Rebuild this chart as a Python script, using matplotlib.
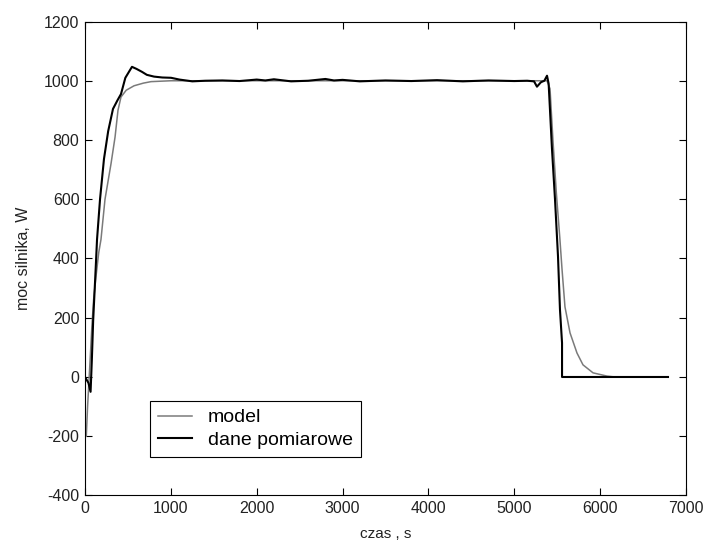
import matplotlib
matplotlib.use("Agg")
import matplotlib.pyplot as plt

plt.rcParams['font.family'] = ['Liberation Sans', 'DejaVu Sans']
plt.rcParams['axes.unicode_minus'] = False

# model (gray, thin)
model_t = [15, 30, 45, 60, 80, 100, 128, 160, 186, 233, 303, 350, 384, 419, 480, 571,
           680, 769, 1002, 1500, 2000, 2500, 3000, 3500, 4000, 4500, 5000, 5300, 5380,
           5416, 5450, 5490, 5530, 5556, 5590, 5649, 5730, 5800, 5917, 6080, 6173]
model_v = [-200, -100, -20, 60, 170, 260, 339, 420, 464, 600, 720, 810, 900, 945, 968, 983,
           992, 997, 1000, 1000, 1000, 1000, 1000, 1000, 1000, 1000, 1000, 1000, 1000,
           973, 800, 620, 470, 363, 237, 149, 81, 41, 14, 3, 0]

# dane pomiarowe (black, thicker)
meas_t = [0, 40, 65, 80, 95, 110, 125, 140, 175, 221, 270, 326, 380, 419, 470, 547, 600,
          664, 720, 804, 900, 1002, 1100, 1250, 1400, 1600, 1800, 2000, 2100, 2200, 2400,
          2600, 2800, 2900, 3000, 3200, 3500, 3800, 4100, 4400, 4700, 5000, 5150, 5230,
          5264, 5310, 5350, 5381, 5400, 5439, 5474, 5509, 5532, 5556, 5556, 6790]
meas_v = [0, -20, -50, 60, 190, 280, 370, 464, 600, 736, 830, 905, 935, 955, 1010, 1047, 1040,
          1030, 1020, 1014, 1011, 1010, 1004, 998, 1000, 1001, 999, 1004, 1001, 1005, 998,
          1000, 1006, 1001, 1003, 998, 1001, 999, 1002, 998, 1001, 999, 1000, 998,
          980, 995, 1000, 1017, 990, 769, 600, 407, 227, 115, 0, 0]

xticks = [0, 1000, 2000, 3000, 4000, 5000, 6000, 7000]
yticks = [-400, -200, 0, 200, 400, 600, 800, 1000, 1200]

fig = plt.figure(figsize=(7.06, 5.43), dpi=100)
ax = fig.add_axes([0.1204, 0.0875, 0.8513, 0.8729])

ax.plot(model_t, model_v, color='#7a7a7a', linewidth=1.1, label='model')
ax.plot(meas_t, meas_v, color='black', linewidth=1.5, label='dane pomiarowe')

ax.set_xlim(0, 7000)
ax.set_ylim(-400, 1200)
ax.set_xticks(xticks)
ax.set_yticks(yticks)
ax.tick_params(direction='in', top=True, right=True, length=5, labelsize=11.5,
               width=0.8, pad=4, labelcolor='#222222')
for s in ax.spines.values():
    s.set_linewidth(0.8)

ax.set_xlabel('czas , s', fontsize=11, color='#222222')
ax.set_ylabel('moc silnika, W', fontsize=11.5, color='#222222')
ax.xaxis.set_label_coords(0.5, -0.066)
ax.yaxis.set_label_coords(-0.09, 0.5)

leg = ax.legend(loc='lower left', bbox_to_anchor=(0.108, 0.081), borderaxespad=0,
                fontsize=14, fancybox=False, edgecolor='black', framealpha=1,
                handlelength=1.75, handletextpad=0.8, borderpad=0.42, labelspacing=0.25)
leg.get_frame().set_linewidth(0.8)

fig.savefig('out.png', dpi=100)
